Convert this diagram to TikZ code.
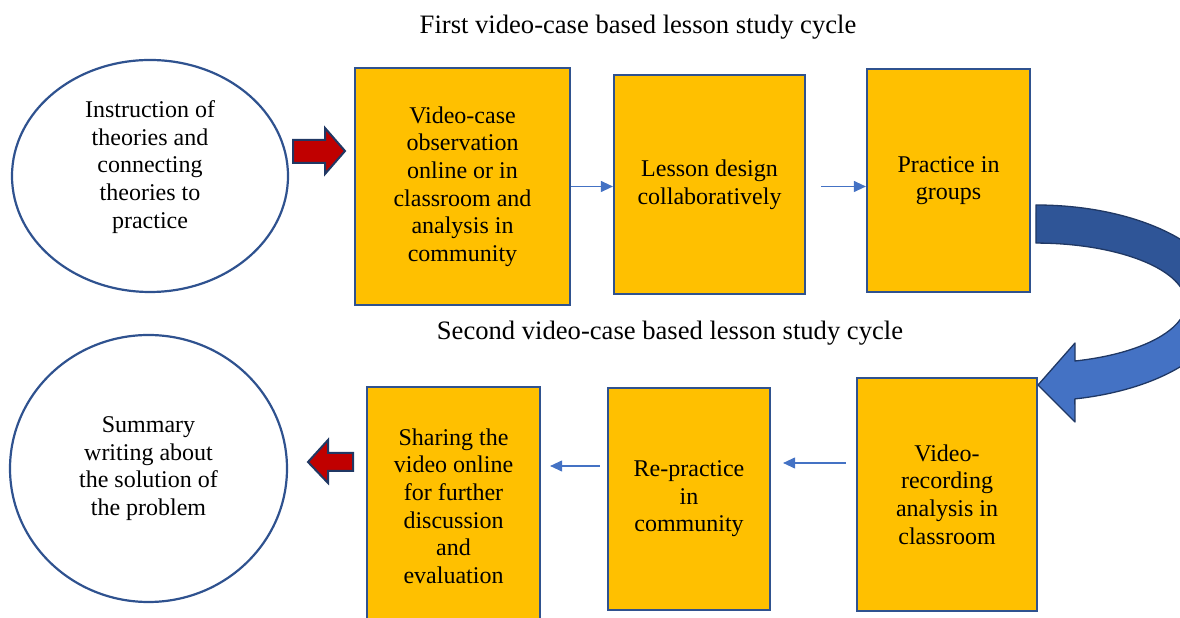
\documentclass[tikz,border=0pt]{standalone}
\usepackage{fontspec}
\setmainfont{Liberation Serif}
\usetikzlibrary{arrows.meta,shapes.geometric}
\definecolor{boxfill}{HTML}{FFC000}
\definecolor{boxline}{HTML}{2F528F}
\definecolor{thinblue}{HTML}{4472C4}
\definecolor{darkred}{HTML}{C00000}
\definecolor{navy}{HTML}{203864}
\definecolor{curvetop}{HTML}{2F5597}
\definecolor{curvebot}{HTML}{4472C4}
\begin{document}
\begin{tikzpicture}[x=1pt,y=1pt,
  txt/.style={font=\fontsize{24}{27.6}\selectfont, align=center, text=black},
  stepbox/.style={txt, draw=boxline, line width=2.2pt, fill=boxfill, inner sep=0pt},
  oval/.style={ellipse, draw=boxline, line width=2.2pt, fill=white, inner sep=0pt},
  thinarrow/.style={draw=thinblue, line width=1.1pt, -{Triangle[length=12pt,width=11pt]}},
  blockarrow/.style={fill=darkred, draw=navy, line width=2pt, line join=miter},
  title/.style={font=\fontsize{26.6}{30}\selectfont}
]
\useasboundingbox (0,0) rectangle (1180,618);

% titles
\node[title] (t1) at (638,591) {First video-case based lesson study cycle};
\node[title] (t2) at (670,285) {Second video-case based lesson study cycle};

% ovals
\node[oval, minimum width=276pt, minimum height=232pt] (c1) at (150,442) {};
\node[txt] (c1t) at (150,451) {Instruction of\\theories and\\connecting\\theories to\\practice};
\node[oval, txt, minimum width=277pt, minimum height=267pt] (c2) at (148.5,149.5) {Summary\\writing about\\the solution of\\the problem};

% boxes
\node[stepbox, minimum width=215pt, minimum height=237pt] (b1) at (462.5,431.5) {Video-case\\observation\\online or in\\classroom and\\analysis in\\community};
\node[stepbox, minimum width=191pt, minimum height=219pt] (b2) at (709.5,433.5) {Lesson design\\collaboratively};
\node[stepbox, minimum width=163pt, minimum height=223pt] (b3) at (948.5,437.5) {Practice in\\groups};
\node[stepbox, minimum width=180pt, minimum height=233pt] (b4) at (947,123.5) {Video-\\recording\\analysis in\\classroom};
\node[stepbox, minimum width=162pt, minimum height=222pt] (b5) at (689,119) {Re-practice\\in\\community};
\node[stepbox, minimum width=173pt, minimum height=238pt] (b6) at (453.5,112) {Sharing the\\video online\\for further\\discussion\\and\\evaluation};

% thin connectors
\draw[thinarrow] (b1.east) -- (b1.east -| b2.west);
\draw[thinarrow] ([xshift=15pt,yshift=-2pt]b2.east) -- ([yshift=-2pt]b2.east -| b3.west);
\draw[thinarrow] ([xshift=-10pt,yshift=31.5pt]b4.west) -- ([xshift=12pt,yshift=31.5pt]b4.west -| b5.east);
\draw[thinarrow] ([xshift=-7pt,yshift=33pt]b5.west) -- ([xshift=9pt,yshift=33pt]b5.west -| b6.east);

% red block arrows
\draw[blockarrow] (293,478) -- (325,478) -- (325,490) -- (345,467) -- (325,444) -- (325,455) -- (293,455) -- cycle;
\draw[blockarrow] (308,156) -- (328,178) -- (328,165) -- (353,165) -- (353,147) -- (328,147) -- (328,135) -- cycle;

% curved arrow
\def\curvepath{(1036,413) arc[start angle=90,end angle=-78.2,x radius=190,y radius=98] -- (1075,196) -- (1038,233) -- (1075,275) -- (1075,257) arc[start angle=-74.9,end angle=90,x radius=150,y radius=60] -- cycle}
\begin{scope}
  \clip (1000,315) rectangle (1260,450);
  \fill[curvetop] \curvepath;
\end{scope}
\begin{scope}
  \clip (1000,150) rectangle (1260,315);
  \fill[curvebot] \curvepath;
\end{scope}
\draw[navy, line width=1.3pt, line join=round] \curvepath;
\end{tikzpicture}
\end{document}
